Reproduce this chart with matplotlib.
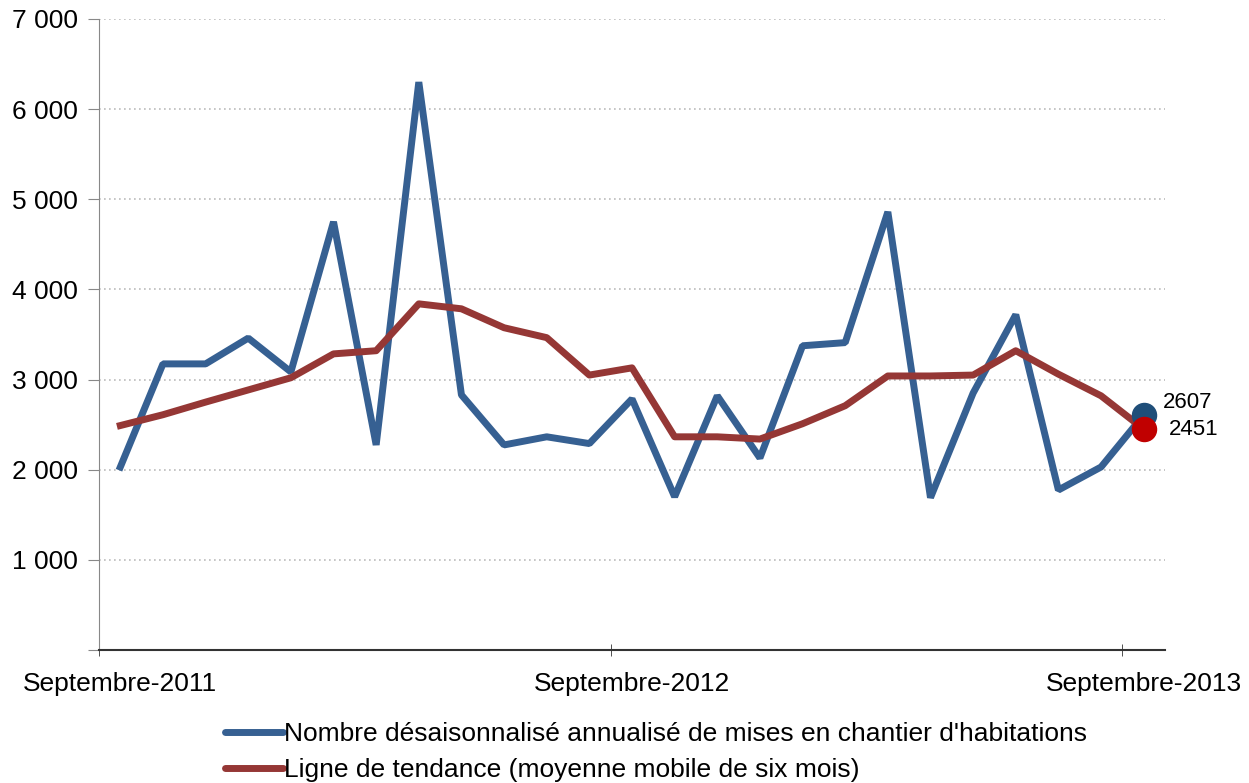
import numpy as np
import matplotlib.pyplot as plt

plt.rcParams['font.family'] = ['Liberation Sans', 'DejaVu Sans']

mises_en_chantier = [2030, 3174, 3174, 3460, 3085, 4750, 2275, 6300, 2830, 2275,
                     2365, 2290, 2785, 1700, 2820, 2130, 3375, 3410, 4860, 1690,
                     2850, 3720, 1775, 2030, 2607]
tendance = [2490, 2610, 2750, 2885, 3020, 3285, 3320, 3840, 3785, 3575,
            3465, 3050, 3130, 2365, 2365, 2340, 2510, 2710, 3040, 3040,
            3050, 3320, 3060, 2820, 2451]
etiquettes_x = ['Septembre-2011', 'Septembre-2012', 'Septembre-2013']
pos_etiquettes = [0, 12, 24]
yticks = [0, 1000, 2000, 3000, 4000, 5000, 6000, 7000]

bleu = '#366092'
rouge = '#953735'

x = np.arange(len(mises_en_chantier))

fig = plt.figure(figsize=(12.49, 7.83), dpi=100)
ax = fig.add_axes([99/1249, 1 - 650/783, (1165-99)/1249, (650-19)/783])

ax.plot(x, mises_en_chantier, color=bleu, lw=5, solid_joinstyle='bevel',
        label="Nombre désaisonnalisé annualisé de mises en chantier d'habitations")
ax.plot(x, tendance, color=rouge, lw=5, solid_joinstyle='round',
        label='Ligne de tendance (moyenne mobile de six mois)')

ax.scatter([x[-1]], [mises_en_chantier[-1]], s=300, color='#1F4E79', zorder=5)
ax.scatter([x[-1]], [tendance[-1]], s=300, color='#C00000', zorder=6)
ax.annotate(str(mises_en_chantier[-1]), (x[-1], mises_en_chantier[-1]),
            xytext=(14, 9), textcoords='offset points', fontsize=16, va='center')
ax.annotate(str(tendance[-1]), (x[-1], tendance[-1]),
            xytext=(18, 0), textcoords='offset points', fontsize=16, va='center')

ax.set_xlim(-0.5, 24.5)
ax.set_ylim(0, 7000)
# étiquettes centrées sur les mois, traits entre les catégories
ax.set_xticks(pos_etiquettes)
ax.set_xticklabels(etiquettes_x, fontsize=19)
ax.set_xticks([p - 0.5 for p in pos_etiquettes], minor=True)
ax.tick_params(axis='x', which='major', length=0, pad=16)
ax.tick_params(axis='x', which='minor', length=8, direction='inout', color='#333333')
ax.set_yticks(yticks)
ax.set_yticklabels([''] + [f'{v:,}'.replace(',', ' ') for v in yticks[1:]], fontsize=19)
ax.tick_params(axis='y', length=8, color='#888888', pad=7)

ax.grid(axis='y', color='#BBBBBB', linestyle=(0, (1, 2)), lw=1.2)
ax.set_axisbelow(True)
for s in ['top', 'right']:
    ax.spines[s].set_visible(False)
ax.spines['left'].set_color('#888888')
ax.spines['bottom'].set_color('#333333')
ax.spines['bottom'].set_linewidth(1.5)

leg = fig.legend(loc='upper left', bbox_to_anchor=(225/1249, 1 - 722/783), frameon=False,
                 fontsize=19, handlelength=2.2, handletextpad=0.05, labelspacing=0.45,
                 borderaxespad=0, borderpad=0)
for ligne in leg.get_lines():
    ligne.set_solid_capstyle('round')

fig.savefig('out.png', dpi=100)
